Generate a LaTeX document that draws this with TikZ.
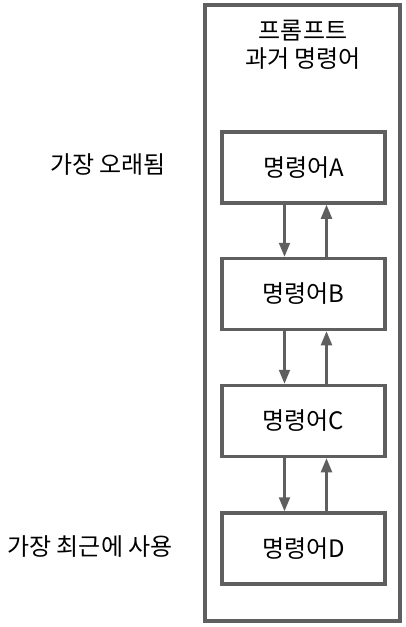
\documentclass[tikz,border=0pt]{standalone}
\usepackage{fontspec}
\newfontfamily\kr{Noto Sans CJK KR}
\usetikzlibrary{arrows.meta}
\definecolor{linegray}{HTML}{5F5F5F}
\begin{document}
\begin{tikzpicture}[x=1pt,y=-1pt,
  cmdbox/.style={draw=linegray,line width=3.5pt,minimum width=163pt,minimum height=71pt,inner sep=0pt,font=\kr\fontsize{24}{28}\selectfont},
  lbl/.style={font=\kr\fontsize{24}{28}\selectfont,inner sep=0pt},
  flow/.style={draw=linegray,line width=2.2pt,-{Triangle[length=14pt,width=11pt]}}]
\useasboundingbox (0,0) rectangle (406,627);
\draw[draw=linegray,line width=3.5pt] (205,5) rectangle (400,621);
\node[lbl,align=center] (title) at (303,45) {프롬프트\\[0pt]과거 명령어};
\node[cmdbox] (A) at (303.5,167.5) {명령어A};
\node[cmdbox] (B) at (303.5,294) {명령어B};
\node[cmdbox] (C) at (303.5,421) {명령어C};
\node[cmdbox] (D) at (303.5,548.5) {명령어D};
\node[lbl] (old) at (108,165) {가장 오래됨};
\node[lbl] (new) at (90,547) {가장 최근에 사용};
\foreach \u/\l in {A/B,B/C,C/D}{
  \draw[flow] ([xshift=-19pt]\u.south) -- ([xshift=-19pt]\l.north);
  \draw[flow] ([xshift=23pt]\l.north) -- ([xshift=23pt]\u.south);
}
\end{tikzpicture}
\end{document}
